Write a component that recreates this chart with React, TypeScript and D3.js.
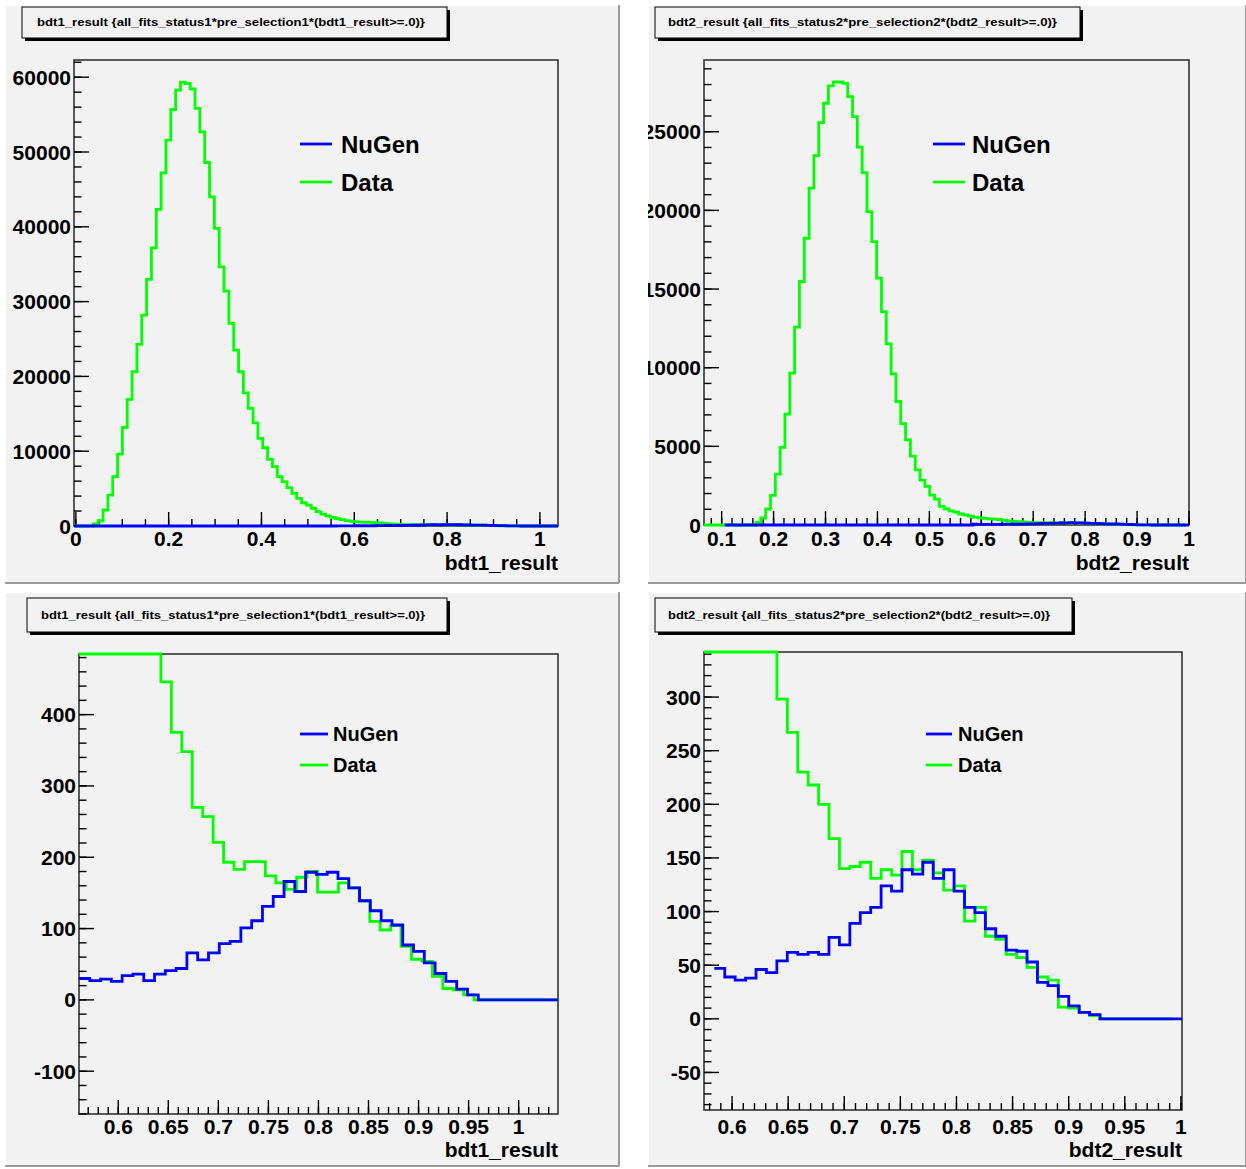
import React from "react";
import * as d3 from "d3";

// ---- data: Data histograms (100 bins each), NuGen histograms ----
const data1Lo = -0.004;
const data1Width = 0.01043;
const data1Counts = [
  0, 0, 0, 0, 270, 700, 2140, 4140, 6590, 9620,
  13190, 16930, 20620, 24280, 28200, 32960, 37190, 42320, 47210, 51580,
  55680, 58260, 59330, 59160, 58440, 55820, 52690, 48600, 44010, 39780,
  34650, 31400, 27090, 23520, 20620, 17810, 15730, 13800, 11720, 10460,
  8910, 7930, 6590, 5920, 5120, 4370, 3700, 3110, 2800, 2360,
  1910, 1600, 1350, 1150, 980, 850, 720, 620, 560, 520,
  500, 490, 446, 375, 348, 270, 257, 221, 193, 183,
  194, 194, 174, 164, 155, 172, 180, 151, 151, 164,
  157, 139, 110, 98, 104, 75, 57, 54, 33, 16,
  14, 7, 0, 0, 0, 0, 0, 0, 0, 0,
];

const nugen1Lo = 0.5608;
const nugen1Width = 0.01078;
const nugen1From = -0.004;
const nugen1Counts = [
  30, 27, 29, 26, 34, 36, 27, 36, 41, 44,
  66, 56, 66, 79, 82, 101, 111, 131, 145, 166,
  152, 179, 176, 179, 170, 157, 139, 125, 111, 105,
  77, 68, 52, 37, 26, 15, 7, 0, 0, 0,
  0, 0, 0, 0, 0,
];

const data2Lo = 0.064;
const data2Width = 0.00929;
const data2Counts = [
  0, 0, 0, 0, 0, 0, 0, 0, 0, 0,
  0, 165, 445, 1017, 1880, 3240, 4930, 7050, 9660, 12580,
  15480, 18230, 21410, 23480, 25580, 26810, 27910, 28160, 28160, 28080,
  27230, 25960, 24020, 22400, 19920, 18020, 15690, 13570, 11520, 9610,
  7850, 6440, 5420, 4380, 3510, 2850, 2450, 1900, 1640, 1180,
  1020, 900, 820, 700, 640, 560, 500, 450, 420, 390,
  370, 350, 298, 267, 230, 218, 200, 168, 140, 142,
  146, 131, 139, 134, 156, 139, 148, 136, 120, 124,
  91, 104, 77, 74, 60, 57, 48, 39, 36, 11,
  10, 6, 3, 0, 0, 0, 0, 0, 0, 0,
];

const nugen2Lo = 0.5842;
const nugen2Width = 0.00929;
const nugen2From = 0.106;
const nugen2Counts = [
  47, 39, 36, 38, 46, 43, 54, 62, 60, 62,
  60, 76, 69, 89, 99, 104, 124, 119, 139, 135,
  146, 131, 139, 119, 104, 99, 84, 77, 64, 63,
  53, 34, 31, 21, 12, 6, 4, 0, 0, 0,
  0, 0, 0, 0, 0,
];

// tick labels
const xLabelsTL = [0, 0.2, 0.4, 0.6, 0.8, 1];
const yLabelsTL = [0, 10000, 20000, 30000, 40000, 50000, 60000];
const xLabelsTR = [0.1, 0.2, 0.3, 0.4, 0.5, 0.6, 0.7, 0.8, 0.9, 1];
const yLabelsTR = [0, 5000, 10000, 15000, 20000, 25000];
const xLabelsBot = [0.6, 0.65, 0.7, 0.75, 0.8, 0.85, 0.9, 0.95, 1];
const yLabelsBL = [-100, 0, 100, 200, 300, 400];
const yLabelsBR = [-50, 0, 50, 100, 150, 200, 250, 300];

const title1 = "bdt1_result {all_fits_status1*pre_selection1*(bdt1_result>=.0)}";
const title2 = "bdt2_result {all_fits_status2*pre_selection2*(bdt2_result>=.0)}";
const seriesNames = ["NuGen", "Data"];

const FONT = "'Liberation Sans', Arial, Helvetica, sans-serif";
const GREEN = "#00ff00";
const BLUE = "#0000ff";
const PAD_BG = "#f2f2f2";

type Hist = { lo: number; width: number; counts: number[]; from?: number };

const data1: Hist = { lo: data1Lo, width: data1Width, counts: data1Counts };
const nugen1: Hist = { lo: nugen1Lo, width: nugen1Width, counts: nugen1Counts, from: nugen1From };
const data2: Hist = { lo: data2Lo, width: data2Width, counts: data2Counts };
const nugen2: Hist = { lo: nugen2Lo, width: nugen2Width, counts: nugen2Counts, from: nugen2From };

function histPoints(h: Hist, d0: number, d1: number, useFrom: boolean) {
  const pts: [number, number][] = [];
  if (useFrom && h.from !== undefined && h.from < h.lo) pts.push([Math.max(h.from, d0), 0]);
  let last = 0;
  let lastEdge = d0;
  h.counts.forEach((c, i) => {
    const a = h.lo + i * h.width;
    const b = a + h.width;
    if (b <= d0 || a >= d1) return;
    pts.push([Math.max(a, d0), c]);
    last = c;
    lastEdge = Math.min(b, d1);
  });
  pts.push([lastEdge, last]);
  return pts;
}

function stepTicks(d0: number, d1: number, step: number) {
  return d3
    .range(Math.ceil(d0 / step - 1e-6), Math.floor(d1 / step + 1e-6) + 1)
    .map((i) => +(i * step).toFixed(6));
}

type Panel = {
  pad: [number, number, number, number];
  frame: { l: number; r: number; t: number; b: number };
  xDomain: [number, number];
  yDomain: [number, number];
  xLabels: number[];
  yLabels: number[];
  xMinor: number;
  yMinor: number;
  data: Hist;
  nugen: Hist;
  full: boolean;
  title: string;
  titleBox: [number, number, number, number];
  titleText: [number, number];
  legend: { x0: number; x1: number; tx: number; y: [number, number]; size: number };
  axisTitle: string;
  axisTitleY: number;
  labelY: number;
};

const panels: Panel[] = [
  {
    pad: [5, 5, 614, 578],
    frame: { l: 74, r: 558, t: 60, b: 526 },
    xDomain: [-0.004, 1.039],
    yDomain: [0, 62300],
    xLabels: xLabelsTL,
    yLabels: yLabelsTL,
    xMinor: 0.05,
    yMinor: 2000,
    data: data1,
    nugen: nugen1,
    full: true,
    title: title1,
    titleBox: [22, 7, 425, 31],
    titleText: [37, 388],
    legend: { x0: 300, x1: 332, tx: 341, y: [144, 182], size: 24 },
    axisTitle: "bdt1_result",
    axisTitleY: 570,
    labelY: 546,
  },
  {
    pad: [648, 5, 598, 578],
    frame: { l: 704, r: 1189, t: 60, b: 525 },
    xDomain: [0.066, 1.0],
    yDomain: [0, 29560],
    xLabels: xLabelsTR,
    yLabels: yLabelsTR,
    xMinor: 0.02,
    yMinor: 1000,
    data: data2,
    nugen: nugen2,
    full: true,
    title: title2,
    titleBox: [655, 7, 425, 31],
    titleText: [668, 389],
    legend: { x0: 933, x1: 965, tx: 972, y: [144, 182], size: 24 },
    axisTitle: "bdt2_result",
    axisTitleY: 570,
    labelY: 546,
  },
  {
    pad: [5, 592, 614, 574],
    frame: { l: 79, r: 558, t: 654, b: 1114 },
    xDomain: [0.5608, 1.0393],
    yDomain: [-160, 485],
    xLabels: xLabelsBot,
    yLabels: yLabelsBL,
    xMinor: 0.01,
    yMinor: 20,
    data: data1,
    nugen: nugen1,
    full: false,
    title: title1,
    titleBox: [27, 598, 420, 34],
    titleText: [41, 384],
    legend: { x0: 300, x1: 328, tx: 333, y: [734, 765], size: 20 },
    axisTitle: "bdt1_result",
    axisTitleY: 1157,
    labelY: 1134,
  },
  {
    pad: [648, 592, 598, 574],
    frame: { l: 704, r: 1182, t: 652, b: 1110 },
    xDomain: [0.575, 1.001],
    yDomain: [-85, 342],
    xLabels: xLabelsBot,
    yLabels: yLabelsBR,
    xMinor: 0.01,
    yMinor: 10,
    data: data2,
    nugen: nugen2,
    full: false,
    title: title2,
    titleBox: [655, 598, 417, 34],
    titleText: [668, 382],
    legend: { x0: 926, x1: 952, tx: 958, y: [734, 765], size: 20 },
    axisTitle: "bdt2_result",
    axisTitleY: 1157,
    labelY: 1134,
  },
];

function HistPanel({ p, idx }: { p: Panel; idx: number }) {
  const { frame: f } = p;
  const x = d3.scaleLinear().domain(p.xDomain).range([f.l, f.r]);
  const y = d3.scaleLinear().domain(p.yDomain).range([f.b, f.t]).clamp(true);
  const line = d3
    .line<[number, number]>()
    .x((d) => x(d[0]))
    .y((d) => y(d[1]))
    .curve(d3.curveStepAfter);
  const xMaj = p.xLabels.filter((v) => v >= p.xDomain[0] && v <= p.xDomain[1]);
  const yMaj = p.yLabels.filter((v) => v >= p.yDomain[0] && v <= p.yDomain[1]);
  const xMin = stepTicks(p.xDomain[0], p.xDomain[1], p.xMinor);
  const yMin = stepTicks(p.yDomain[0], p.yDomain[1], p.yMinor);
  const [px, py, pw, ph] = p.pad;
  const [bx, by, bw, bh] = p.titleBox;
  const clipId = `pad-clip-${idx}`;
  return (
    <g>
      <defs>
        <clipPath id={clipId}>
          <rect x={px} y={py} width={pw} height={ph} />
        </clipPath>
      </defs>
      <rect x={px} y={py} width={pw} height={ph} fill={PAD_BG} />
      {/* pad bevel */}
      <line x1={px} y1={py} x2={px + pw} y2={py} stroke="#ffffff" strokeWidth={2} />
      <line x1={px} y1={py} x2={px} y2={py + ph} stroke="#ffffff" strokeWidth={2} />
      <line x1={px} y1={py + ph} x2={px + pw} y2={py + ph} stroke="#9a9a9a" strokeWidth={2} />
      <line x1={px + pw} y1={py} x2={px + pw} y2={py + ph} stroke="#9a9a9a" strokeWidth={2} />
      <g clipPath={`url(#${clipId})`}>
        {/* frame */}
        <rect x={f.l} y={f.t} width={f.r - f.l} height={f.b - f.t} fill="none" stroke="#333" strokeWidth={1.6} />
        {/* ticks */}
        {xMin.map((v) => (
          <line key={`xm${v}`} x1={x(v)} x2={x(v)} y1={f.b} y2={f.b - 7} stroke="#000" strokeWidth={1.4} />
        ))}
        {xMaj.map((v) => (
          <line key={`xM${v}`} x1={x(v)} x2={x(v)} y1={f.b} y2={f.b - 14} stroke="#000" strokeWidth={1.4} />
        ))}
        {yMin.map((v) => (
          <line key={`ym${v}`} x1={f.l} x2={f.l + 7.5} y1={y(v)} y2={y(v)} stroke="#000" strokeWidth={1.4} />
        ))}
        {yMaj.map((v) => (
          <line key={`yM${v}`} x1={f.l} x2={f.l + 15} y1={y(v)} y2={y(v)} stroke="#000" strokeWidth={1.4} />
        ))}
        {/* tick labels */}
        <g fontFamily={FONT} fontWeight="bold" fontSize={21} fill="#000">
          {xMaj.map((v) => (
            <text key={`xl${v}`} x={x(v)} y={p.labelY} textAnchor="middle">
              {String(v)}
            </text>
          ))}
          {yMaj.map((v) => (
            <text key={`yl${v}`} x={f.l - 3} y={y(v)} dy="0.36em" textAnchor="end">
              {String(v)}
            </text>
          ))}
          <text x={f.r} y={p.axisTitleY} textAnchor="end" fontSize={21}>
            {p.axisTitle}
          </text>
        </g>
        {/* histograms: Data first, NuGen on top */}
        <path
          d={line(histPoints(p.data, p.xDomain[0], p.xDomain[1], false)) || ""}
          fill="none"
          stroke={GREEN}
          strokeWidth={2.8}
        />
        <path
          d={line(histPoints(p.nugen, p.xDomain[0], p.xDomain[1], p.full)) || ""}
          fill="none"
          stroke={BLUE}
          strokeWidth={2.8}
        />
        {/* legend */}
        {seriesNames.map((name, i) => (
          <g key={name}>
            <line
              x1={p.legend.x0}
              x2={p.legend.x1}
              y1={p.legend.y[i]}
              y2={p.legend.y[i]}
              stroke={i === 0 ? BLUE : GREEN}
              strokeWidth={2.8}
            />
            <text
              x={p.legend.tx}
              y={p.legend.y[i]}
              dy="0.36em"
              fontFamily={FONT}
              fontWeight="bold"
              fontSize={p.legend.size}
              fill="#000"
            >
              {name}
            </text>
          </g>
        ))}
        {/* title box with shadow */}
        <rect x={bx + 3} y={by + 3} width={bw} height={bh} fill="#000" />
        <rect x={bx} y={by} width={bw} height={bh} fill={PAD_BG} stroke="#000" strokeWidth={1} />
        <text
          x={p.titleText[0]}
          y={by + bh / 2}
          dy="0.36em"
          fontFamily={FONT}
          fontWeight="bold"
          fontSize={11}
          textLength={p.titleText[1]}
          lengthAdjust="spacingAndGlyphs"
          fill="#000"
        >
          {p.title}
        </text>
      </g>
    </g>
  );
}

export default function App() {
  return (
    <svg
      width={1246}
      height={1169}
      viewBox="0 0 1246 1169"
      style={{ position: "absolute", left: 0, top: 0, background: "#ffffff" }}
    >
      {panels.map((p, i) => (
        <HistPanel key={i} p={p} idx={i} />
      ))}
    </svg>
  );
}
